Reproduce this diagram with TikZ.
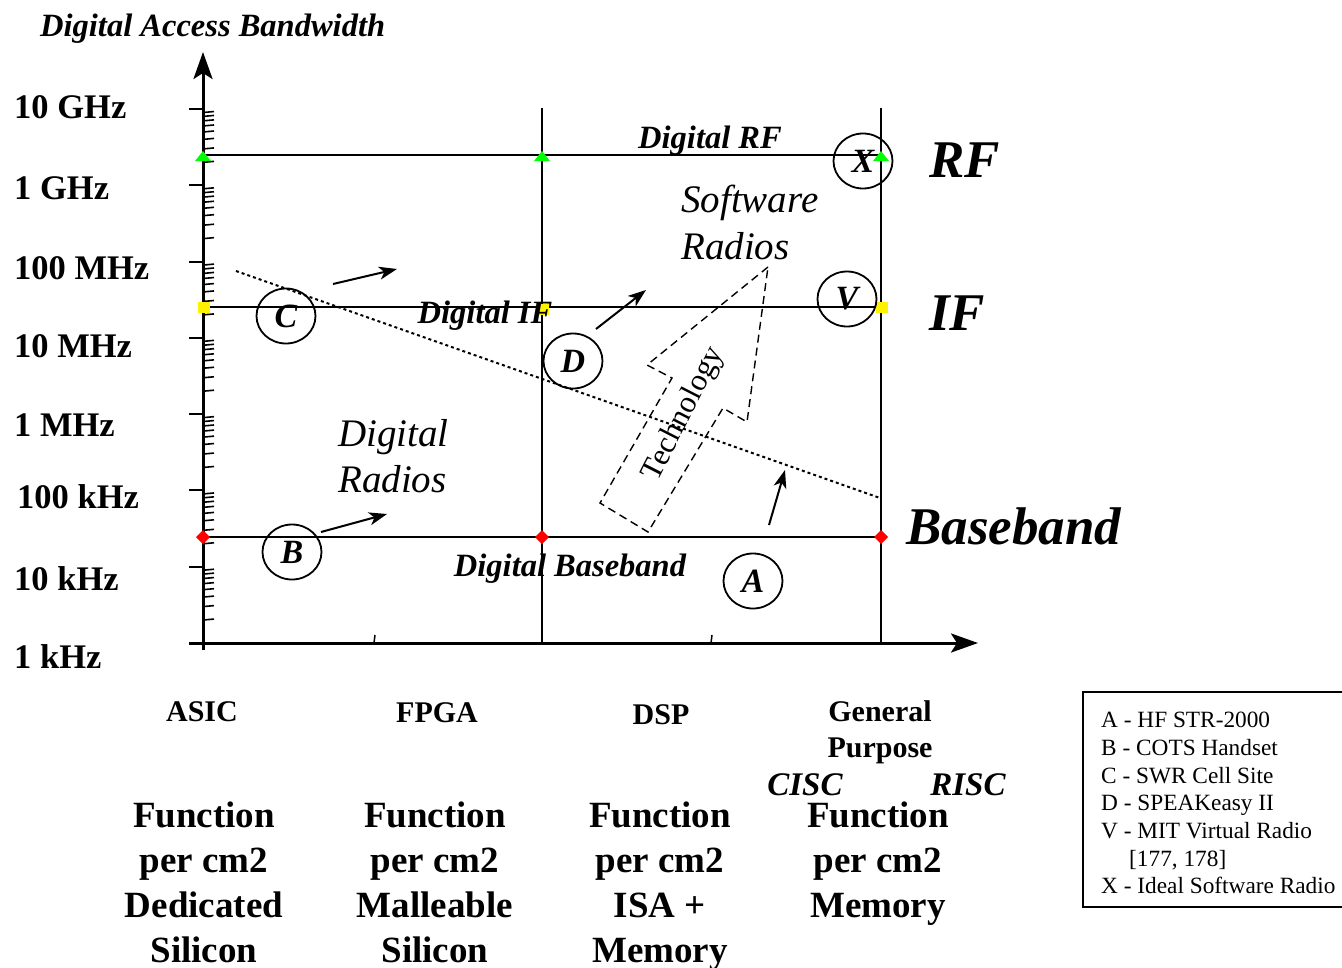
\documentclass[tikz,border=0pt]{standalone}
\usepackage{fontspec}
\setmainfont{Liberation Serif}
\usetikzlibrary{arrows.meta,calc,shapes.geometric}
\newcommand\setfs[1]{\fontsize{#1}{#1}\selectfont}
\begin{document}
\begin{tikzpicture}[x=1pt,y=-1pt,
  axisline/.style={line width=3pt},
  gridline/.style={line width=2pt},
  ylab/.style={anchor=base west, inner sep=0, font=\bfseries\setfs{34.5}},
  circ/.style={ellipse, draw, line width=1.8pt, minimum width=59pt, minimum height=55pt, inner sep=0, font=\bfseries\itshape\setfs{34}},
  dlab/.style={anchor=base, inner sep=0, font=\bfseries\itshape\setfs{32.5}},
  big/.style={anchor=base west, inner sep=0, font=\bfseries\itshape\setfs{53}},
  ital/.style={anchor=base west, inner sep=0, font=\itshape\setfs{39}},
  xlab/.style={anchor=base, inner sep=0, font=\bfseries\setfs{30}},
  func/.style={anchor=north, inner sep=0, align=center, font=\bfseries\fontsize{37}{45}\selectfont},
  move/.style={line width=2pt, -{Stealth[length=18pt,width=13pt,inset=5pt]}},
  techarrow/.style={line width=1.4pt, dash pattern=on 8pt off 5pt},
]
\useasboundingbox (0,0) rectangle (1342,967);

% coordinates
\coordinate (O) at (203,643);
\coordinate (ytop) at (203,52);
\coordinate (ybot) at (203,650);
\coordinate (xleft) at (189,643);
\coordinate (xend) at (978,643);
\coordinate (v1t) at (542,108); \coordinate (v1b) at (542,643);
\coordinate (v2t) at (881,108); \coordinate (v2b) at (881,643);
\coordinate (rfL) at (203,155); \coordinate (rfM) at (542,155); \coordinate (rfR) at (881,155);
\coordinate (ifL) at (203,307); \coordinate (ifM) at (542,309); \coordinate (ifR) at (881,307);
\coordinate (bbL) at (203,537); \coordinate (bbM) at (542,537); \coordinate (bbR) at (881,537);

% ticks
\foreach \i in {0,...,7} \draw[line width=2pt] (189,{643-76.28*\i}) -- (203,{643-76.28*\i});
\foreach \i in {0,...,6} \foreach \k in {2,...,9}
  \draw[line width=1.6pt] (203,{643-76.28*(\i+log10(\k))}) -- ++(11,-1);
\draw[line width=1.5pt] (374,643) -- (375,635);
\draw[line width=1.5pt] (711,643) -- (712,635);

% grid
\draw[gridline] (v1t) -- (v1b);
\draw[gridline] (v2t) -- (v2b);
\draw[gridline] (rfL) -- (rfR);
\draw[gridline] (ifL) -- (ifR);
\draw[gridline] (bbL) -- (bbR);

% axes
\draw[axisline, -{Stealth[length=27pt,width=19pt,inset=6pt]}] (ybot) -- (ytop);
\draw[axisline, -{Stealth[length=27pt,width=19pt,inset=6pt]}] (xleft) -- (xend);

% markers
\foreach \p in {rfL,rfM,rfR}
  \fill[green] ($(\p)+(-8,6)$) -- ($(\p)+(8,6)$) -- ($(\p)+(0,-4)$) -- cycle;
\foreach \p in {ifL,ifM,ifR}
  \fill[yellow] ($(\p)+(-5.5,-5.5)$) rectangle ($(\p)+(6.5,5.5)$);
\foreach \p in {bbL,bbM,bbR}
  \fill[red] ($(\p)+(-7,0)$) -- ($(\p)+(0,-7)$) -- ($(\p)+(7,0)$) -- ($(\p)+(0,7)$) -- cycle;

% dotted technology boundary
\coordinate (dl1) at (236,271);
\coordinate (dl2) at (880,498);
\draw[line width=2pt, dash pattern=on 3pt off 3pt] (dl1) -- (dl2);

% technology arrow
\draw[techarrow] (768,267) -- (647,365) -- (672,378) -- (600,503) -- (648,532) -- (723,408) -- (747,422) -- cycle;
\node[rotate=63, inner sep=0, font=\setfs{31}] (tech) at (684,414) {Technology};

% y labels
\node[ylab] (l1) at (14,118) {10 GHz};
\node[ylab] (l2) at (14,199) {1 GHz};
\node[ylab] (l3) at (14,279) {100 MHz};
\node[ylab] (l4) at (14,357) {10 MHz};
\node[ylab] (l5) at (14,436) {1 MHz};
\node[ylab] (l6) at (17,508) {100 kHz};
\node[ylab] (l7) at (14,590) {10 kHz};
\node[ylab] (l8) at (14,668) {1 kHz};

\node[anchor=base west, inner sep=0, font=\bfseries\itshape\setfs{32.5}] (title) at (40,36) {Digital Access Bandwidth};

% region labels
\node[dlab] (drf) at (710,148) {Digital RF};
\node[dlab] (dif) at (485,323) {Digital IF};
\node[dlab] (dbb) at (570,576) {Digital Baseband};
\node[big] (rf) at (929,177) {RF};
\node[big] (if) at (929,330) {IF};
\node[big] (bb) at (906,544) {Baseband};
\node[ital] (sw1) at (681,212) {Software};
\node[ital] (sw2) at (681,259) {Radios};
\node[ital] (dr1) at (338,446) {Digital};
\node[ital] (dr2) at (338,492) {Radios};

% circles
\node[circ] (X) at (863,161) {\raisebox{-4pt}{X}};
\node[circ] (V) at (847,299) {\raisebox{-4pt}{V}};
\node[circ] (C) at (286,316) {\raisebox{-4pt}{C}};
\node[circ] (D) at (573,361) {\raisebox{-4pt}{D}};
\node[circ] (B) at (292,552) {\raisebox{-4pt}{B}};
\node[circ] (A) at (753,581) {\raisebox{-4pt}{A}};

% movement arrows
\coordinate (a1s) at (333,284); \coordinate (a1e) at (397,269);
\coordinate (a2s) at (596,329); \coordinate (a2e) at (646,290);
\coordinate (a3s) at (321,532); \coordinate (a3e) at (387,514);
\coordinate (a4s) at (769,525); \coordinate (a4e) at (785,470);
\draw[move] (a1s) -- (a1e);
\draw[move] (a2s) -- (a2e);
\draw[move] (a3s) -- (a3e);
\draw[move] (a4s) -- (a4e);

% x labels
\node[xlab] (asic) at (202,721) {ASIC};
\node[xlab] (fpga) at (437,722) {FPGA};
\node[xlab] (dsp) at (661,724) {DSP};
\node[xlab] (gen) at (880,721) {General};
\node[xlab] (pur) at (880,757) {Purpose};
\node[anchor=base, inner sep=0, font=\bfseries\itshape\setfs{33}] (cisc) at (805,795) {CISC};
\node[anchor=base, inner sep=0, font=\bfseries\itshape\setfs{33}] (risc) at (968,795) {RISC};

\node[func] (f1) at (204,802) {Function\\per cm2\\Dedicated\\Silicon};
\node[func] (f2) at (435,802) {Function\\per cm2\\Malleable\\Silicon};
\node[func] (f3) at (660,802) {Function\\per cm2\\ISA +\\Memory};
\node[func] (f4) at (878,802) {Function\\per cm2\\Memory};

% legend
\draw[line width=1.5pt] (1350,692) -- (1083,692) -- (1083,907) -- (1350,907);
\node[anchor=north west, inner sep=0, align=left, font=\fontsize{23.3}{27.7}\selectfont] (legend) at (1101,712)
  {A - HF STR-2000\\B - COTS Handset\\C - SWR Cell Site\\D - SPEAKeasy II\\V - MIT Virtual Radio\\\hspace*{28pt}[177, 178]\\X - Ideal Software Radio};
\end{tikzpicture}
\end{document}
